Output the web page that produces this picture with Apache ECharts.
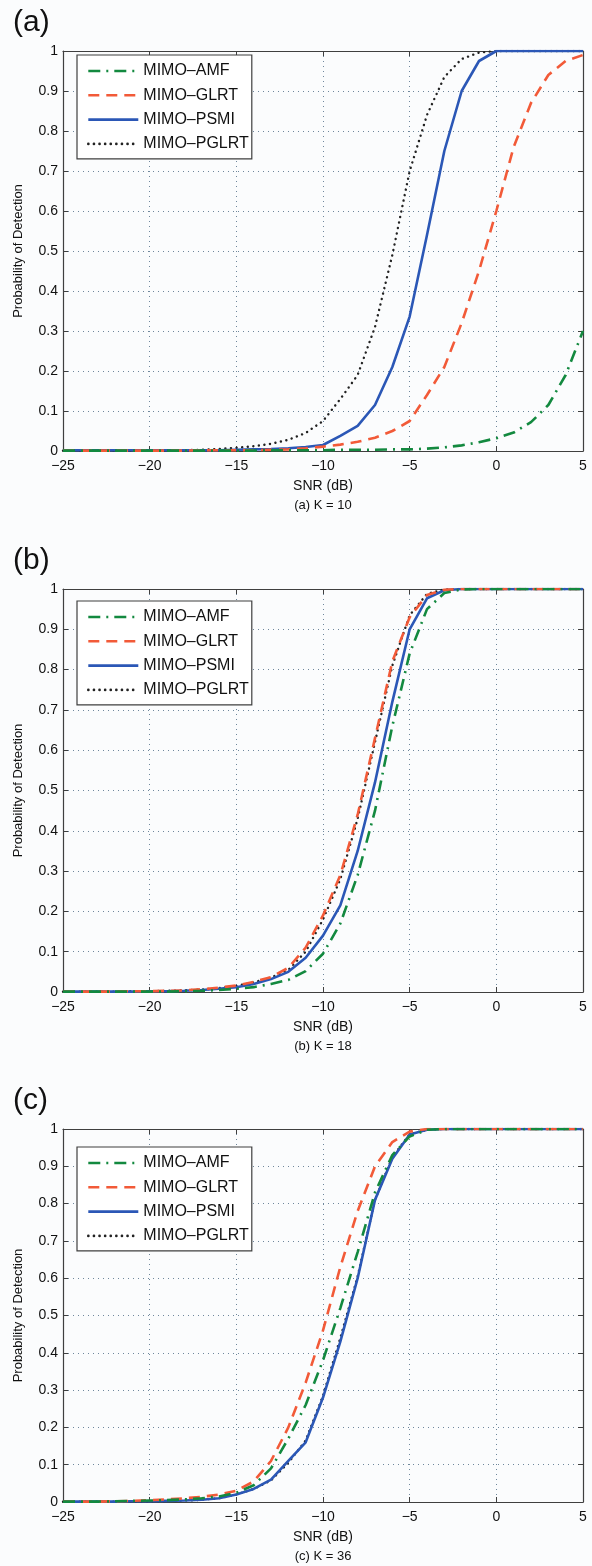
<!DOCTYPE html>
<html>
<head>
<meta charset="utf-8">
<script src="https://cdn.jsdelivr.net/npm/echarts@6/dist/echarts.min.js"></script>
<style>
  html, body { margin: 0; padding: 0; background: #fbfcfd; }
  #chart { width: 592px; height: 1566px; }
</style>
</head>
<body>
<div id="chart"></div>
<script>
// SNR steps (dB), same for all three panels
const snr = [-25, -24, -23, -22, -21, -20, -19, -18, -17, -16, -15, -14, -13, -12, -11, -10,
  -9, -8, -7, -6, -5, -4, -3, -2, -1, 0, 1, 2, 3, 4, 5];
const names = ['MIMO–AMF', 'MIMO–GLRT', 'MIMO–PSMI', 'MIMO–PGLRT'];
const captions = ['(a) K = 10', '(b) K = 18', '(c) K = 36'];
const letters = ['(a)', '(b)', '(c)'];

// (a) K = 10
const amfA = [0.001, 0.001, 0.001, 0.001, 0.001, 0.001, 0.001, 0.001, 0.001, 0.001, 0.001, 0.001, 0.002, 0.002, 0.002, 0.002,
  0.003, 0.003, 0.003, 0.004, 0.004, 0.006, 0.009, 0.014, 0.022, 0.032, 0.046, 0.072, 0.115, 0.19, 0.30];
const glrtA = [0.001, 0.001, 0.001, 0.001, 0.001, 0.001, 0.001, 0.001, 0.002, 0.002, 0.002, 0.002, 0.003, 0.004, 0.007, 0.011,
  0.016, 0.023, 0.033, 0.05, 0.075, 0.14, 0.21, 0.32, 0.45, 0.60, 0.76, 0.87, 0.94, 0.975, 0.99];
const psmiA = [0.002, 0.002, 0.002, 0.002, 0.002, 0.002, 0.002, 0.002, 0.002, 0.002, 0.003, 0.004, 0.005, 0.007, 0.01, 0.015,
  0.038, 0.063, 0.115, 0.21, 0.336, 0.54, 0.75, 0.90, 0.975, 1, 1, 1, 1, 1, 1];
const pglrtA = [0.001, 0.001, 0.001, 0.001, 0.001, 0.002, 0.002, 0.002, 0.003, 0.005, 0.008, 0.012, 0.018, 0.028, 0.045, 0.075,
  0.13, 0.19, 0.31, 0.49, 0.70, 0.84, 0.935, 0.98, 0.996, 1, 1, 1, 1, 1, 1];

// (b) K = 18
const amfB = [0.001, 0.001, 0.001, 0.001, 0.001, 0.001, 0.001, 0.002, 0.003, 0.005, 0.008, 0.012, 0.02, 0.03, 0.052, 0.095,
  0.17, 0.29, 0.45, 0.66, 0.84, 0.95, 0.99, 0.999, 1, 1, 1, 1, 1, 1, 1];
const glrtB = [0.001, 0.001, 0.001, 0.001, 0.002, 0.002, 0.003, 0.004, 0.007, 0.011, 0.016, 0.025, 0.037, 0.06, 0.11, 0.19,
  0.29, 0.44, 0.63, 0.82, 0.93, 0.985, 0.998, 1, 1, 1, 1, 1, 1, 1, 1];
const psmiB = [0.001, 0.001, 0.001, 0.001, 0.001, 0.002, 0.002, 0.003, 0.005, 0.008, 0.012, 0.02, 0.032, 0.05, 0.085, 0.14,
  0.215, 0.35, 0.52, 0.72, 0.90, 0.977, 0.997, 1, 1, 1, 1, 1, 1, 1, 1];
const pglrtB = [0.001, 0.001, 0.001, 0.001, 0.002, 0.002, 0.003, 0.004, 0.006, 0.01, 0.015, 0.024, 0.036, 0.055, 0.10, 0.18,
  0.28, 0.43, 0.62, 0.81, 0.935, 0.988, 0.999, 1, 1, 1, 1, 1, 1, 1, 1];

// (c) K = 36
const amfC = [0.001, 0.001, 0.001, 0.002, 0.003, 0.004, 0.005, 0.007, 0.01, 0.015, 0.025, 0.045, 0.09, 0.17, 0.26, 0.38,
  0.52, 0.67, 0.83, 0.93, 0.98, 0.998, 1, 1, 1, 1, 1, 1, 1, 1, 1];
const glrtC = [0.001, 0.001, 0.001, 0.002, 0.003, 0.005, 0.007, 0.01, 0.014, 0.02, 0.03, 0.055, 0.11, 0.20, 0.32, 0.46,
  0.63, 0.78, 0.90, 0.965, 0.993, 1, 1, 1, 1, 1, 1, 1, 1, 1, 1];
const psmiC = [0.001, 0.001, 0.001, 0.001, 0.002, 0.002, 0.003, 0.004, 0.006, 0.01, 0.02, 0.035, 0.06, 0.11, 0.16, 0.28,
  0.43, 0.60, 0.81, 0.92, 0.985, 0.998, 1, 1, 1, 1, 1, 1, 1, 1, 1];
const pglrtC = [0.001, 0.001, 0.001, 0.001, 0.002, 0.002, 0.003, 0.004, 0.006, 0.01, 0.02, 0.035, 0.058, 0.105, 0.165, 0.285,
  0.44, 0.605, 0.81, 0.925, 0.986, 0.998, 1, 1, 1, 1, 1, 1, 1, 1, 1];

const panels = [
  [amfA, glrtA, psmiA, pglrtA],
  [amfB, glrtB, psmiB, pglrtB],
  [amfC, glrtC, psmiC, pglrtC]
];

// plot boxes (px)
const boxes = [
  { top: 51, height: 400 },
  { top: 589, height: 403 },
  { top: 1129, height: 373 }
];
const legendTops = [55, 601, 1147];
const LEFT = 63, WIDTH = 520;

const FONT = "'Liberation Sans', Arial, Helvetica, sans-serif";
const frameColor = '#3f3f3f';
const gridColor = '#6f879c';

const styles = [
  { color: '#13893f', width: 2.6, type: [12, 6, 2, 6] },
  { color: '#f25a38', width: 2.6, type: [11, 7] },
  { color: '#2b57b6', width: 2.6, type: 'solid' },
  { color: '#222222', width: 2.4, type: [0.1, 5.5], cap: 'round' }
];

const minus = v => String(v).replace('-', '\u2212');

let grids = [], xAxes = [], yAxes = [], series = [], legends = [], graphics = [];

boxes.forEach((b, p) => {
  grids.push({ left: LEFT, top: b.top, width: WIDTH, height: b.height, show: false });

  // bottom x
  xAxes.push({
    type: 'value', gridIndex: p, min: -25, max: 5, interval: 5,
    axisLine: { show: true, onZero: false, lineStyle: { color: frameColor, width: 1.2 } },
    axisTick: { show: true, inside: true, length: 5, lineStyle: { color: frameColor } },
    axisLabel: { margin: 8, color: '#111', fontSize: 14, fontFamily: FONT, formatter: minus },
    splitLine: { show: true, lineStyle: { color: gridColor, type: [1, 4], width: 1 } },
    name: 'SNR (dB)', nameLocation: 'middle', nameGap: 28,
    nameTextStyle: { color: '#111', fontSize: 14, fontFamily: FONT }
  });
  // top x (frame + ticks)
  xAxes.push({
    type: 'value', gridIndex: p, position: 'top', min: -25, max: 5, interval: 5,
    axisLine: { show: true, onZero: false, lineStyle: { color: frameColor, width: 1.2 } },
    axisTick: { show: true, inside: true, length: 5, lineStyle: { color: frameColor } },
    axisLabel: { show: false }, splitLine: { show: false }
  });
  // left y
  yAxes.push({
    type: 'value', gridIndex: p, min: 0, max: 1, interval: 0.1,
    axisLine: { show: true, onZero: false, lineStyle: { color: frameColor, width: 1.2 } },
    axisTick: { show: true, inside: true, length: 5, lineStyle: { color: frameColor } },
    axisLabel: { margin: 5, color: '#111', fontSize: 14, fontFamily: FONT,
      formatter: v => String(Math.round(v * 10) / 10) },
    splitLine: { show: true, lineStyle: { color: gridColor, type: [1, 4], width: 1 } },
    name: 'Probability of Detection', nameLocation: 'middle', nameGap: 38, nameRotate: 90,
    nameTextStyle: { color: '#111', fontSize: 13, fontFamily: FONT }
  });
  // right y
  yAxes.push({
    type: 'value', gridIndex: p, position: 'right', min: 0, max: 1, interval: 0.1,
    axisLine: { show: true, onZero: false, lineStyle: { color: frameColor, width: 1.2 } },
    axisTick: { show: true, inside: true, length: 5, lineStyle: { color: frameColor } },
    axisLabel: { show: false }, splitLine: { show: false }
  });

  panels[p].forEach((vals, k) => {
    const st = styles[k];
    series.push({
      name: names[k], type: 'line', xAxisIndex: p * 2, yAxisIndex: p * 2,
      data: snr.map((x, i) => [x, vals[i]]),
      symbol: 'none', showSymbol: false, z: 10 - k,
      color: st.color,
      lineStyle: { color: st.color, width: st.width, type: st.type, cap: st.cap || 'butt' }
    });
  });

  legends.push({
    data: names, orient: 'vertical', left: 77, top: legendTops[p],
    itemWidth: 50, itemHeight: 14, itemGap: 8.3,
    padding: [8, 3, 7, 10],
    borderColor: frameColor, borderWidth: 1.2, backgroundColor: '#ffffff',
    itemStyle: { opacity: 0 },
    lineStyle: { width: 2.6 },
    textStyle: { color: '#111', fontSize: 16, fontFamily: FONT },
    selectedMode: false
  });

  graphics.push({
    type: 'text', left: 13, top: b.top - 43,
    style: { text: letters[p], fontSize: 30, fontFamily: FONT, fill: '#111' }
  });
  graphics.push({
    type: 'text', x: LEFT + WIDTH / 2, y: b.top + b.height + 54,
    style: { text: captions[p], fontSize: 13, fontFamily: FONT, fill: '#111',
      align: 'center', verticalAlign: 'middle' }
  });
});

const chart = echarts.init(document.getElementById('chart'), null, { renderer: 'canvas' });
chart.setOption({
  animation: false,
  backgroundColor: '#fbfcfd',
  grid: grids,
  xAxis: xAxes,
  yAxis: yAxes,
  legend: legends,
  series: series,
  graphic: graphics
});
</script>
</body>
</html>
